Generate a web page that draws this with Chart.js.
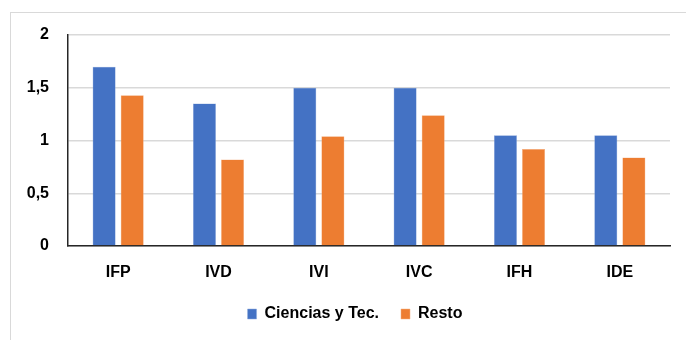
<!DOCTYPE html>
<html>
<head>
<meta charset="utf-8">
<script src="https://cdn.jsdelivr.net/npm/chart.js@4"></script>
<style>
  html, body { margin: 0; padding: 0; background: #fff; }
  #wrap { position: relative; width: 686px; height: 340px; overflow: hidden; }
  #frame { position: absolute; left: 10px; top: 12px; width: 700px; height: 400px;
           border-top: 1px solid #d9d9d9; border-left: 1px solid #d9d9d9; }
  canvas { position: absolute; left: 0; top: 0; }
</style>
</head>
<body>
<div id="wrap">
  <div id="frame"></div>
  <canvas id="c" width="686" height="340"></canvas>
</div>
<script>
const categories = ["IFP", "IVD", "IVI", "IVC", "IFH", "IDE"];
const seriesNames = ["Ciencias y Tec.", "Resto"];
const cienciasValues = [1.70, 1.35, 1.50, 1.50, 1.05, 1.05];
const restoValues = [1.43, 0.82, 1.04, 1.24, 0.92, 0.84];
const yTicks = [0, 0.5, 1, 1.5, 2];

const FONT = "'Liberation Sans', Arial, sans-serif";

const shiftLegend = {
  id: 'shiftLegend',
  afterLayout(chart) {
    if (chart.legend) { chart.legend.left += 20; chart.legend.right += 20; }
  }
};

new Chart(document.getElementById('c'), {
  type: 'bar',
  data: {
    labels: categories,
    datasets: [
      { label: seriesNames[0], data: cienciasValues, backgroundColor: '#4472C4',
        borderColor: '#8faadc', borderWidth: 0.5 },
      { label: seriesNames[1], data: restoValues, backgroundColor: '#ED7D31',
        borderColor: '#f4b183', borderWidth: 0.5 }
    ]
  },
  plugins: [shiftLegend],
  options: {
    responsive: false,
    animation: false,
    devicePixelRatio: 1,
    layout: { padding: { top: 35, right: 16, left: 0, bottom: 8 } },
    datasets: { bar: { categoryPercentage: 0.56, barPercentage: 0.82 } },
    plugins: {
      tooltip: { enabled: false },
      legend: {
        position: 'bottom',
        labels: {
          font: { family: FONT, size: 16, weight: 'bold' },
          color: '#000',
          boxWidth: 9,
          boxHeight: 10,
          padding: 22
        }
      }
    },
    scales: {
      x: {
        grid: { display: false },
        border: { display: true, color: '#262626', width: 1.5 },
        ticks: { font: { family: FONT, size: 16, weight: 'bold' }, color: '#000', padding: 9 },
        afterFit: (s) => { s.height = 38; }
      },
      y: {
        min: 0, max: 2,
        afterBuildTicks: (s) => { s.ticks = yTicks.map(v => ({ value: v })); },
        grid: { color: '#d9d9d9', lineWidth: 1.5, drawTicks: false },
        border: { display: true, color: '#262626', width: 1.5 },
        ticks: {
          font: { family: FONT, size: 16, weight: 'bold' }, color: '#000', padding: 19,
          callback: (v) => String(v).replace('.', ',')
        },
        afterFit: (s) => { s.width = 68; }
      }
    }
  }
});
</script>
</body>
</html>
